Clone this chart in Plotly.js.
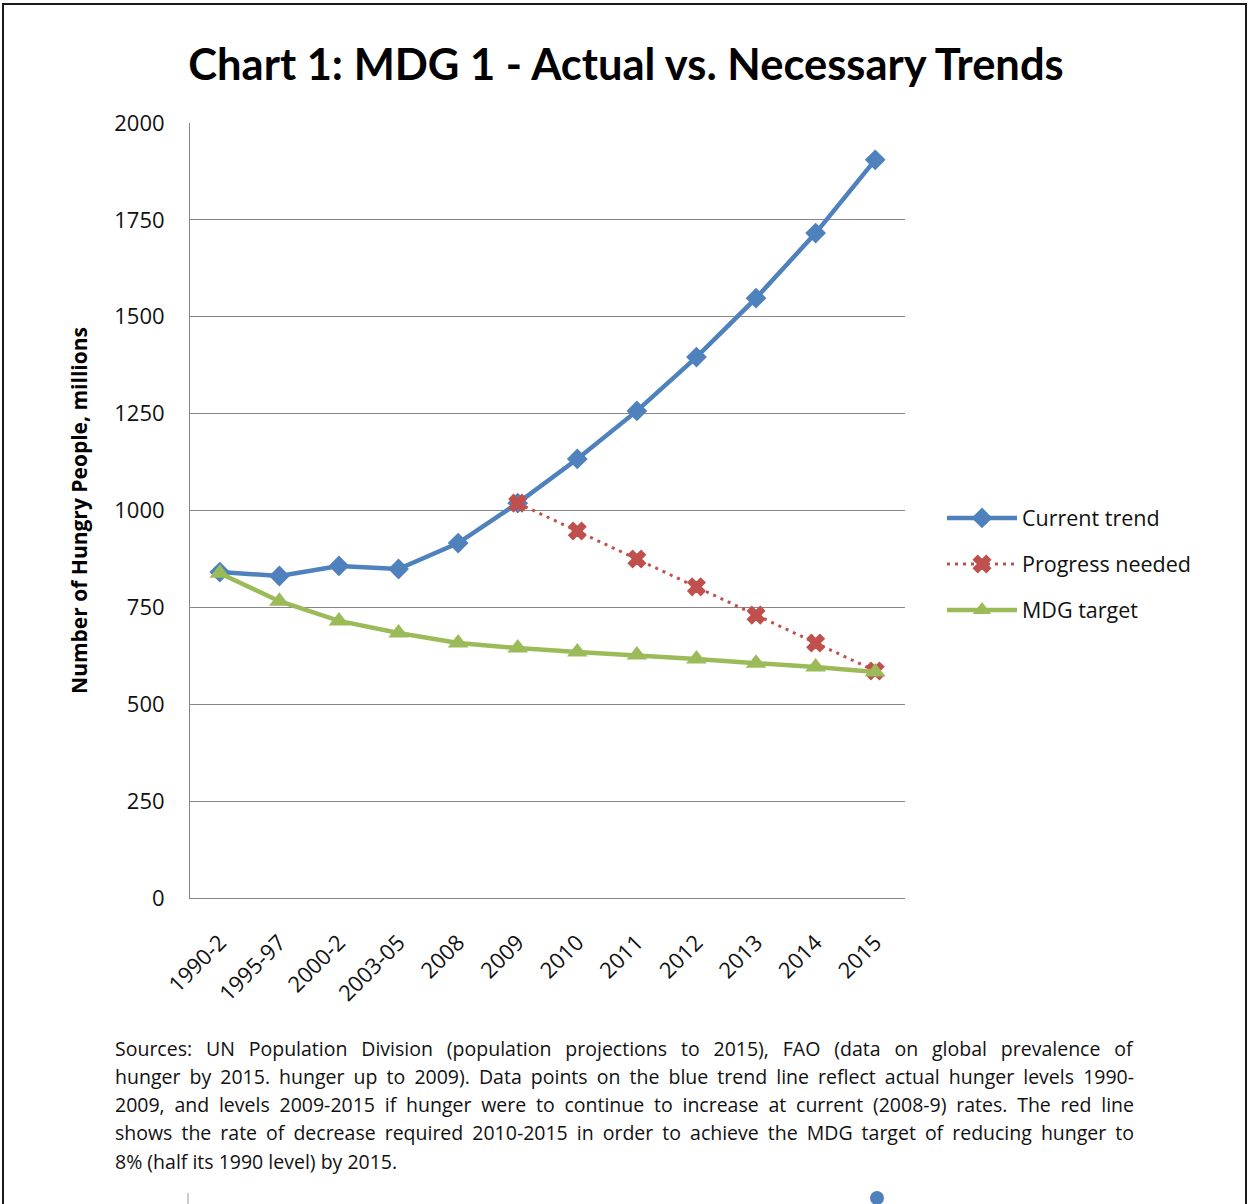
<!DOCTYPE html>
<html>
<head>
<meta charset="utf-8">
<script src="https://cdn.plot.ly/plotly-3.0.1.min.js"></script>
<style>
  html, body { margin: 0; padding: 0; background: #ffffff; }
  #chart { width: 1250px; height: 1204px; }
</style>
</head>
<body>
<div id="chart"></div>
<script>
// ---- data ----
const categories = ['1990-2', '1995-97', '2000-2', '2003-05', '2008', '2009',
                    '2010', '2011', '2012', '2013', '2014', '2015'];
const currentTrend   = [841, 831, 857, 849, 916, 1019, 1133, 1257, 1396, 1548, 1716, 1905];
const progressNeeded = [null, null, null, null, null, 1019, 947, 875, 803, 730, 658, 586];
const mdgTarget      = [838, 766, 715, 684, 658, 645, 635, 627, 617, 606, 596, 583];
const yTickValues    = [0, 250, 500, 750, 1000, 1250, 1500, 1750, 2000];

const chartTitle = 'Chart 1: MDG 1 - Actual vs. Necessary Trends';
const yTitle = 'Number of Hungry People, millions';
const footnoteLines = [
  'Sources: UN Population Division (population projections to 2015), FAO (data on global prevalence of',
  'hunger by 2015. hunger up to 2009). Data points on the blue trend line reflect actual hunger levels 1990-',
  '2009, and levels 2009-2015 if hunger were to continue to increase at current (2008-9) rates. The red line',
  'shows the rate of decrease required 2010-2015 in order to achieve the MDG target of reducing hunger to',
  '8% (half its 1990 level) by 2015.'
];

// ---- styling ----
const FONT = '"Open Sans", Lato, sans-serif';
const TFONT = 'Lato, "Open Sans", sans-serif';
const W = 1250, H = 1204;
const M = { l: 190, r: 345, t: 123, b: 306 };
const PW = W - M.l - M.r, PH = H - M.t - M.b;
const px = x => (x - M.l) / PW;          // pixel -> paper x
const py = y => (H - M.b - y) / PH;      // pixel -> paper y
const FOOT_LEFT = 113, FOOT_RIGHT = 1132;

const traces = [
  {
    x: categories, y: currentTrend, name: 'Current trend', type: 'scatter', mode: 'lines+markers',
    legendgroup: 'a',
    line: { color: '#4F81BD', width: 4.5 },
    marker: { symbol: 'diamond', size: 16, color: '#4F81BD' }
  },
  {
    x: categories, y: progressNeeded, name: 'Progress needed', type: 'scatter', mode: 'lines+markers',
    legendgroup: 'b', connectgaps: false,
    line: { color: '#C0504D', width: 3, dash: '3px,5px' },
    marker: { symbol: 'x', size: 15, color: '#C0504D', line: { width: 1.5, color: '#C0504D' } }
  },
  {
    x: categories, y: mdgTarget, name: 'MDG target', type: 'scatter', mode: 'lines+markers',
    legendgroup: 'c',
    line: { color: '#9BBB59', width: 4.5 },
    marker: { symbol: 'triangle-up', size: 18, color: '#9BBB59' }
  }
];

const annotations = footnoteLines.map((t, i) => ({
  text: t, xref: 'paper', yref: 'paper', x: px(FOOT_LEFT), y: py(1048 + i * 28.3),
  xanchor: 'left', yanchor: 'middle', showarrow: false, align: 'left',
  font: { family: FONT, size: 19.5, color: '#111' }
}));

const layout = {
  width: W, height: H,
  margin: M,
  paper_bgcolor: '#ffffff', plot_bgcolor: '#ffffff',
  font: { family: FONT, color: '#111' },
  title: {
    text: '<b>' + chartTitle + '</b>',
    xref: 'container', yref: 'container', x: 626 / W, y: 1 - 65 / H,
    xanchor: 'center', yanchor: 'middle',
    font: { family: TFONT, size: 43.5, color: '#000' }
  },
  xaxis: {
    type: 'category', range: [-0.5, 11.5], tickangle: -45,
    showgrid: false, showline: true, linecolor: '#868686', linewidth: 1,
    ticks: '', ticklabelstandoff: 22,
    tickfont: { family: FONT, size: 22, color: '#111' },
    fixedrange: true
  },
  yaxis: {
    range: [0, 2000], tickvals: yTickValues,
    showgrid: true, gridcolor: '#868686', gridwidth: 1,
    showline: true, linecolor: '#868686', linewidth: 1,
    zeroline: false, ticks: '', ticklabelstandoff: 20,
    tickfont: { family: FONT, size: 22, color: '#111' },
    title: { text: '<b>' + yTitle + '</b>', font: { family: FONT, size: 21, color: '#000' }, standoff: 20 },
    fixedrange: true
  },
  legend: {
    x: px(942), y: py(564), xanchor: 'left', yanchor: 'middle',
    itemwidth: 70, tracegroupgap: 15,
    font: { family: FONT, size: 21.5, color: '#111' },
    bgcolor: 'rgba(0,0,0,0)'
  },
  showlegend: true,
  annotations: annotations,
  shapes: [
    { type: 'rect', xref: 'paper', yref: 'paper', x0: px(3), x1: px(1246), y0: py(1215), y1: py(4),
      line: { color: '#1a1a1a', width: 2 }, fillcolor: 'rgba(0,0,0,0)', layer: 'below' },
    { type: 'line', xref: 'paper', yref: 'paper', x0: px(188), x1: px(188), y0: py(1193), y1: py(1210),
      line: { color: '#999999', width: 1 } },
    { type: 'circle', xref: 'paper', yref: 'paper', x0: px(870), x1: px(884), y0: py(1191), y1: py(1205),
      line: { color: '#4F81BD', width: 0 }, fillcolor: '#4F81BD' }
  ]
};

Plotly.newPlot('chart', traces, layout, { displayModeBar: false, staticPlot: true }).then(gd => {
  // justify the footnote lines (all but the last) like the original text block
  const texts = gd.querySelectorAll('.annotation-text');
  texts.forEach((el, i) => {
    if (i >= footnoteLines.length - 1) return;
    const spaces = (footnoteLines[i].match(/ /g) || []).length;
    if (!spaces) return;
    const bb = el.getBBox();
    const extra = (FOOT_RIGHT - FOOT_LEFT - bb.width) / spaces;
    if (extra > 0) {
      el.setAttribute('text-anchor', 'start');
      el.setAttribute('x', bb.x);
      el.style.wordSpacing = extra + 'px';
    }
  });
});
</script>
</body>
</html>
